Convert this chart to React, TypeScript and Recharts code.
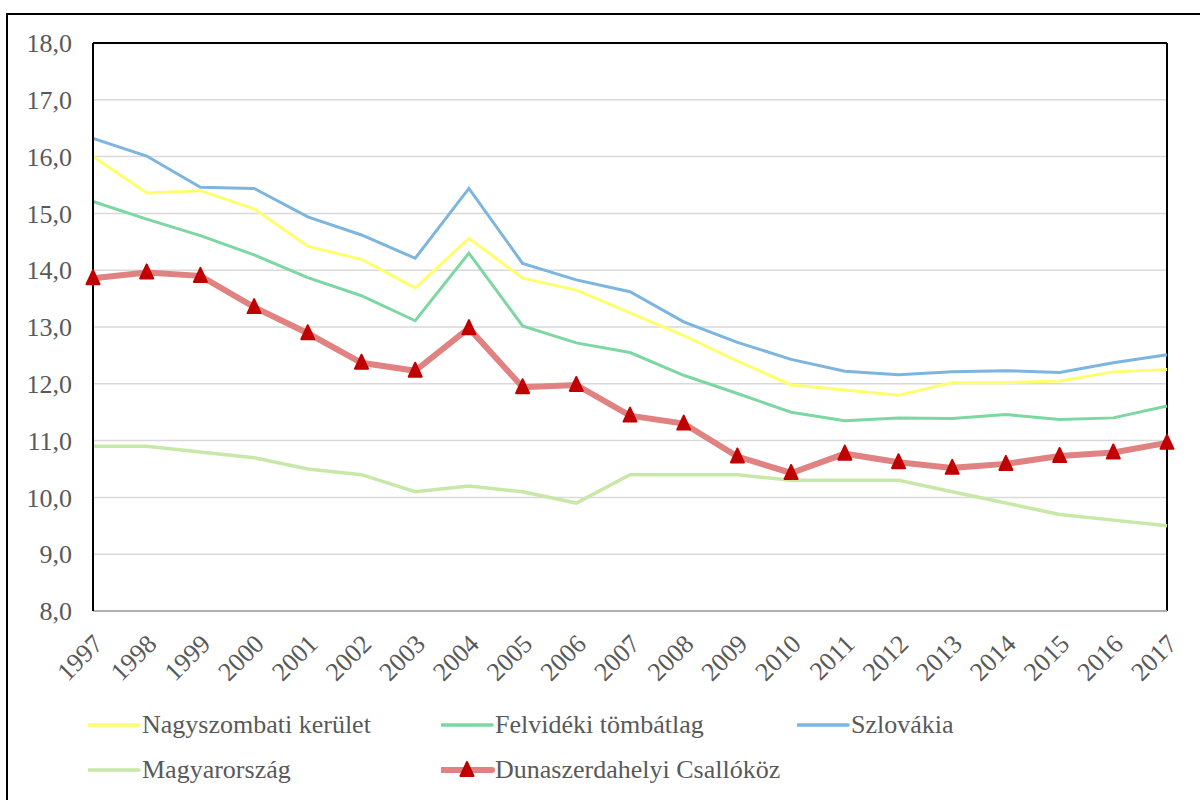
import { LineChart, Line, XAxis, YAxis, CartesianGrid, ReferenceLine, Legend } from 'recharts';

const years = ['1997', '1998', '1999', '2000', '2001', '2002', '2003', '2004', '2005', '2006', '2007', '2008', '2009', '2010', '2011', '2012', '2013', '2014', '2015', '2016', '2017'];

const nagyszombati = [16.0, 15.36, 15.4, 15.08, 14.42, 14.19, 13.69, 14.56, 13.86, 13.65, 13.25, 12.85, 12.4, 11.98, 11.89, 11.8, 12.02, 12.02, 12.05, 12.21, 12.25];
const felvideki = [15.21, 14.9, 14.61, 14.27, 13.87, 13.55, 13.11, 14.3, 13.02, 12.72, 12.55, 12.15, 11.83, 11.5, 11.35, 11.4, 11.39, 11.46, 11.37, 11.4, 11.61];
const szlovakia = [16.32, 16.01, 15.46, 15.44, 14.94, 14.62, 14.21, 15.44, 14.12, 13.83, 13.62, 13.09, 12.73, 12.43, 12.22, 12.16, 12.21, 12.23, 12.2, 12.37, 12.51];
const magyarorszag = [10.9, 10.9, 10.8, 10.7, 10.5, 10.4, 10.1, 10.2, 10.1, 9.9, 10.4, 10.4, 10.4, 10.3, 10.3, 10.3, 10.1, 9.9, 9.7, 9.6, 9.5];
const dunaszerdahelyi = [13.86, 13.96, 13.9, 13.35, 12.89, 12.37, 12.23, 12.98, 11.94, 11.98, 11.44, 11.3, 10.72, 10.43, 10.77, 10.62, 10.52, 10.59, 10.73, 10.79, 10.96];

const yTicks = [8, 9, 10, 11, 12, 13, 14, 15, 16, 17, 18];

const series = [
  { key: 'nagyszombati', name: 'Nagyszombati kerület', color: '#ffff6e', width: 3 },
  { key: 'felvideki', name: 'Felvidéki tömbátlag', color: '#7dd7a2', width: 3 },
  { key: 'szlovakia', name: 'Szlovákia', color: '#7cb5df', width: 3 },
  { key: 'magyarorszag', name: 'Magyarország', color: '#c8e8a8', width: 3.5 },
  { key: 'dunaszerdahelyi', name: 'Dunaszerdahelyi Csallóköz', color: '#e08282', width: 6, marker: true },
];

const data = years.map((year, i) => ({
  year,
  nagyszombati: nagyszombati[i],
  felvideki: felvideki[i],
  szlovakia: szlovakia[i],
  magyarorszag: magyarorszag[i],
  dunaszerdahelyi: dunaszerdahelyi[i],
}));

const FONT = 'Liberation Serif';
const FS = 26;
const TEXT = '#595959';
const MARKER = '#c00000';

const Triangle = (props: any) => {
  const { cx, cy, index } = props;
  if (cx == null || cy == null) return null;
  return (
    <polygon
      key={`tri-${index}`}
      points={`${cx},${cy - 8} ${cx - 6.5},${cy + 6} ${cx + 6.5},${cy + 6}`}
      fill={MARKER}
      stroke={MARKER}
      strokeWidth={2}
      strokeLinejoin="round"
    />
  );
};

const YearTick = ({ x, y, payload }: any) => (
  <g transform={`translate(${x + 5},${y + 28})`}>
    <text
      x={0}
      y={0}
      dy="0.35em"
      textAnchor="end"
      transform="rotate(-45)"
      fill={TEXT}
      fontSize={FS}
      style={{ fontFamily: FONT }}
    >
      {payload.value}
    </text>
  </g>
);

const legendSpots = [
  { left: 88, top: 25 },
  { left: 441, top: 25 },
  { left: 797, top: 25 },
  { left: 88, top: 70 },
  { left: 441, top: 70 },
];

const CustomLegend = () => (
  <div style={{ position: 'relative', width: 1200, height: 100 }}>
    {series.map((s, i) => (
      <div
        key={s.key}
        style={{
          position: 'absolute',
          left: legendSpots[i].left,
          top: legendSpots[i].top - 15,
          height: 30,
          display: 'flex',
          alignItems: 'center',
          whiteSpace: 'nowrap',
        }}
      >
        <svg width={54} height={30}>
          <line x1={1} y1={15} x2={51} y2={15} stroke={s.color} strokeWidth={s.marker ? 6 : 3.5} strokeLinecap="round" />
          {s.marker && <Triangle cx={26} cy={15} index={0} />}
        </svg>
        <span style={{ fontFamily: FONT, fontSize: FS, color: TEXT, lineHeight: '30px' }}>{s.name}</span>
      </div>
    ))}
  </div>
);

export default function App() {
  return (
    <div style={{ position: 'absolute', left: 0, top: 0, width: 1200, height: 800, overflow: 'hidden', background: '#fff', fontFamily: FONT }}>
      <div style={{ position: 'absolute', left: 6, top: 13, width: 1220, height: 820, border: '2px solid #000' }} />
      <LineChart
        width={1200}
        height={800}
        data={data}
        margin={{ top: 43, right: 33, left: 13, bottom: 129 }}
        style={{ fontFamily: FONT }}
      >
        <CartesianGrid vertical={false} stroke="#d9d9d9" strokeWidth={1.5} />
        <XAxis
          dataKey="year"
          scale="point"
          padding={{ left: 0, right: 0 }}
          interval={0}
          height={60}
          tickSize={0}
          tickMargin={0}
          tickLine={false}
          axisLine={{ stroke: '#b0b0b0', strokeWidth: 2 }}
          tick={<YearTick />}
        />
        <YAxis
          domain={[8, 18]}
          ticks={yTicks}
          width={80}
          tickLine={false}
          tickSize={6}
          tickMargin={15}
          axisLine={{ stroke: '#000', strokeWidth: 2 }}
          tickFormatter={(v: number) => v.toFixed(1).replace('.', ',')}
          tick={{ fill: TEXT, fontSize: FS, style: { fontFamily: FONT } }}
          allowDataOverflow
        />
        <ReferenceLine y={18} stroke="#000" strokeWidth={2} />
        <ReferenceLine x="2017" stroke="#000" strokeWidth={2} />
        {series.map((s) => (
          <Line
            key={s.key}
            type="linear"
            dataKey={s.key}
            name={s.name}
            stroke={s.color}
            strokeWidth={s.width}
            dot={s.marker ? <Triangle /> : false}
            activeDot={false}
            isAnimationActive={false}
          />
        ))}
        <Legend
          layout="horizontal"
          verticalAlign="middle"
          align="center"
          wrapperStyle={{ top: 700, left: 0, width: 1200 }}
          content={<CustomLegend />}
        />
      </LineChart>
    </div>
  );
}
